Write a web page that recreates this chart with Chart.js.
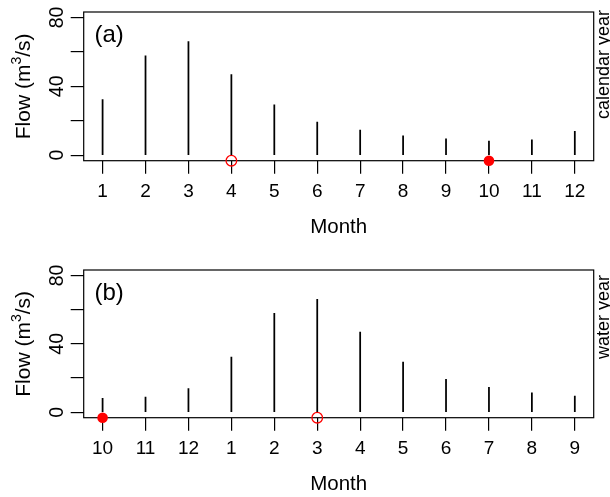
<!DOCTYPE html>
<html>
<head>
<meta charset="utf-8">
<script src="https://cdn.jsdelivr.net/npm/chart.js@4.4.0/dist/chart.umd.min.js"></script>
<style>
  html, body { margin: 0; padding: 0; background: #fff; }
  #wrap { position: relative; width: 610px; height: 497px; overflow: hidden; }
  canvas { position: absolute; left: 0; }
</style>
</head>
<body>
<div id="wrap">
  <canvas id="panel-a" width="610" height="257" style="top:0px"></canvas>
  <canvas id="panel-b" width="610" height="240" style="top:257px"></canvas>
</div>
<script>
// mean monthly flow, calendar order (m3/s)
const calendarMonths = [1, 2, 3, 4, 5, 6, 7, 8, 9, 10, 11, 12];
const monthlyFlow = [32.3, 57.8, 66.0, 46.9, 29.3, 19.2, 14.6, 11.3, 9.5, 8.2, 8.9, 13.9];
const waterYearMonths = [10, 11, 12, 1, 2, 3, 4, 5, 6, 7, 8, 9];

const yTicks = [0, 20, 40, 60, 80];
const yTickLabels = ['0', '', '40', '', '80'];
const yRange = [-3.2, 83.2];
const xRange = [0.56, 12.44];

// red markers sit on the lower frame; open one differs per panel
const openMarkerCalendar = 4;
const openMarkerWater = 3;
const filledMarkerMonth = 10;
const markerFlow = -3.2;

const FONT = '"Liberation Sans", Arial, sans-serif';

const frameAndText = {
  id: 'frameAndText',
  beforeDatasetsDraw(chart) {
    const { ctx, chartArea: a } = chart;
    ctx.save();
    ctx.strokeStyle = '#000';
    ctx.lineWidth = 1.2;
    ctx.strokeRect(a.left, a.top, a.right - a.left, a.bottom - a.top);
    ctx.restore();
  },
  afterDraw(chart, args, o) {
    const { ctx, chartArea: a } = chart;
    const xs = chart.scales.x, ys = chart.scales.y;
    ctx.save();
    ctx.fillStyle = '#000';

    // x tick labels
    ctx.font = '19px ' + FONT;
    ctx.textAlign = 'center';
    ctx.textBaseline = 'alphabetic';
    o.xLabels.forEach((lab, i) => {
      ctx.fillText(String(lab), xs.getPixelForValue(i + 1), a.bottom + 36.6);
    });

    // x title
    ctx.font = '20.5px ' + FONT;
    ctx.fillText('Month', (a.left + a.right) / 2, a.bottom + 72.6);

    // y tick labels, parallel to axis
    ctx.font = '19.5px ' + FONT;
    yTicks.forEach((v, i) => {
      if (!yTickLabels[i]) return;
      ctx.save();
      ctx.translate(62.5, ys.getPixelForValue(v));
      ctx.rotate(-Math.PI / 2);
      ctx.textAlign = 'center';
      ctx.fillText(yTickLabels[i], 0, 0);
      ctx.restore();
    });

    // y title with superscript
    ctx.save();
    ctx.translate(29.5, (a.top + a.bottom) / 2);
    ctx.rotate(-Math.PI / 2);
    const big = '21px ' + FONT, small = '14px ' + FONT;
    ctx.font = big;
    const w1 = ctx.measureText('Flow (m').width;
    const w3 = ctx.measureText('/s)').width;
    ctx.font = small;
    const w2 = ctx.measureText('3').width;
    let x = -(w1 + w2 + w3) / 2;
    ctx.textAlign = 'left';
    ctx.font = big;
    ctx.fillText('Flow (m', x, 0);
    x += w1;
    ctx.font = small;
    ctx.fillText('3', x, -9);
    x += w2;
    ctx.font = big;
    ctx.fillText('/s)', x, 0);
    ctx.restore();

    // panel letter
    ctx.font = '24px ' + FONT;
    ctx.textAlign = 'left';
    ctx.fillText(o.letter, 94.5, a.top + 30);

    // side note
    ctx.save();
    ctx.font = '18px ' + FONT;
    ctx.translate(608.5, o.sideEnd);
    ctx.rotate(-Math.PI / 2);
    ctx.textAlign = 'right';
    ctx.fillText(o.side, 0, 0);
    ctx.restore();

    ctx.restore();
  }
};

function makePanel(id, months, openMonth, letter, side, boxTop, boxBottom, sideEnd) {
  const canvas = document.getElementById(id);
  const pos = m => months.indexOf(m) + 1;
  const flows = months.map(m => monthlyFlow[calendarMonths.indexOf(m)]);

  return new Chart(canvas, {
    type: 'bar',
    data: {
      datasets: [
        {
          type: 'bar',
          data: flows.map((v, i) => ({ x: i + 1, y: v })),
          backgroundColor: '#000',
          borderWidth: 0,
          barThickness: 1.1
        },
        {
          type: 'scatter',
          data: [{ x: pos(openMonth), y: markerFlow }],
          pointRadius: 5.3,
          pointBorderWidth: 1.3,
          pointBorderColor: '#f00',
          pointBackgroundColor: 'rgba(0,0,0,0)',
          clip: false
        },
        {
          type: 'scatter',
          data: [{ x: pos(filledMarkerMonth), y: markerFlow }],
          pointRadius: 5.3,
          pointBorderWidth: 0,
          pointBackgroundColor: '#f00',
          clip: false
        }
      ]
    },
    options: {
      responsive: false,
      devicePixelRatio: 1,
      animation: false,
      events: [],
      layout: { padding: { top: boxTop, right: 610 - 593.7, left: 0, bottom: 0 } },
      plugins: {
        legend: { display: false },
        tooltip: { enabled: false },
        frameAndText: { letter, side, sideEnd, xLabels: months }
      },
      scales: {
        x: {
          type: 'linear',
          offset: false,
          min: xRange[0],
          max: xRange[1],
          afterBuildTicks: s => { s.ticks = calendarMonths.map(v => ({ value: v })); },
          afterFit: s => { s.height = canvas.height - boxBottom; },
          ticks: { display: false },
          grid: { display: true, offset: false, drawOnChartArea: false, drawTicks: true, tickLength: 13, color: '#000', lineWidth: 1.2 },
          border: { display: false }
        },
        y: {
          type: 'linear',
          min: yRange[0],
          max: yRange[1],
          afterBuildTicks: s => { s.ticks = yTicks.map(v => ({ value: v })); },
          afterFit: s => { s.width = 83.7; },
          ticks: { display: false },
          grid: { display: true, drawOnChartArea: false, drawTicks: true, tickLength: 13, color: '#000', lineWidth: 1.2 },
          border: { display: false }
        }
      }
    },
    plugins: [frameAndText]
  });
}

makePanel('panel-a', calendarMonths, openMarkerCalendar, '(a)', 'calendar year', 12, 160.7, 10);
makePanel('panel-b', waterYearMonths, openMarkerWater, '(b)', 'water year', 13, 160.7, 18);
</script>
</body>
</html>
